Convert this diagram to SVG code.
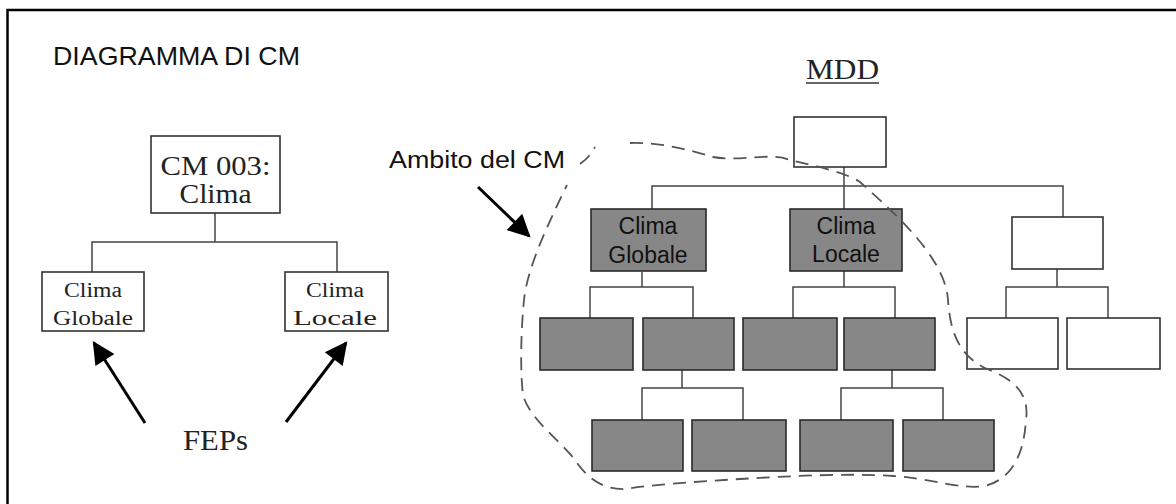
<svg xmlns="http://www.w3.org/2000/svg" width="1176" height="504" viewBox="0 0 1176 504">
<defs>
<style>
.sans{font-family:"Liberation Sans",Arial,sans-serif;fill:#111}
.serif{font-family:"Liberation Serif","Times New Roman",serif;fill:#222}
.wbox{fill:#fff;stroke:#333;stroke-width:1.6}
.gbox{fill:#878787;stroke:#2a2a2a;stroke-width:1.6}
.conn{fill:none;stroke:#444;stroke-width:1.5}
.arrow{fill:none;stroke:#000;stroke-width:3}
.dash{fill:none;stroke:#555;stroke-width:1.8;stroke-dasharray:13 8}
</style>
<marker id="ah" viewBox="0 0 10 10" refX="9" refY="5" markerWidth="9" markerHeight="7.5" orient="auto" markerUnits="strokeWidth">
<path d="M0,0 L10,5 L0,10 z" fill="#000"/>
</marker>
</defs>
<rect width="1176" height="504" fill="#fff"/>
<g id="frame" fill="none" stroke="#000" stroke-width="2.5">
<path d="M7.5,504 L7.5,10 L1176,10"/>
</g>
<text class="sans" x="53" y="65" font-size="25" textLength="247" lengthAdjust="spacingAndGlyphs">DIAGRAMMA DI CM</text>
<g id="connectors">
<path class="conn" d="M215,213 V242 M92,272 V242 H337 V272"/>
<path class="conn" d="M844,167 V209 M652,209 V186 H1063 V217"/>
<path class="conn" d="M642,272 V287 M590,318 V287 H693 V318"/>
<path class="conn" d="M844,271 V287 M793,318 V287 H895 V318"/>
<path class="conn" d="M1057,269 V287 M1006,318 V287 H1108 V318"/>
<path class="conn" d="M682,370 V388 M642,420 V388 H743 V420"/>
<path class="conn" d="M892,370 V388 M841,420 V388 H943 V420"/>
<line class="arrow" x1="145" y1="423" x2="94" y2="343" marker-end="url(#ah)"/>
<line class="arrow" x1="286" y1="422" x2="346" y2="343" marker-end="url(#ah)"/>
<line class="arrow" x1="478" y1="187" x2="529" y2="236" stroke-width="2.6" marker-end="url(#ah)"/>
</g>
<g id="cm003">
<rect class="wbox" x="151" y="136" width="129" height="77"/>
<text class="serif" x="215.5" y="175" font-size="27" text-anchor="middle" textLength="110" lengthAdjust="spacingAndGlyphs">CM 003:</text>
<text class="serif" x="215.5" y="203" font-size="27" text-anchor="middle" textLength="72" lengthAdjust="spacingAndGlyphs">Clima</text>
</g>
<g id="fep-globale">
<rect class="wbox" x="42" y="272" width="102" height="59"/>
<text class="serif" x="93" y="297" font-size="20" text-anchor="middle" textLength="58" lengthAdjust="spacingAndGlyphs">Clima</text>
<text class="serif" x="93" y="325" font-size="20" text-anchor="middle" textLength="80" lengthAdjust="spacingAndGlyphs">Globale</text>
</g>
<g id="fep-locale">
<rect class="wbox" x="285" y="272" width="103" height="59"/>
<text class="serif" x="335" y="297" font-size="20" text-anchor="middle" textLength="58" lengthAdjust="spacingAndGlyphs">Clima</text>
<text class="serif" x="335" y="325" font-size="20" text-anchor="middle" textLength="84" lengthAdjust="spacingAndGlyphs">Locale</text>
</g>
<text class="serif" x="183" y="450" font-size="30" textLength="65" lengthAdjust="spacingAndGlyphs">FEPs</text>
<text class="sans" x="389" y="168" font-size="23" textLength="176" lengthAdjust="spacingAndGlyphs">Ambito del CM</text>
<g id="mdd-title">
<text class="serif" x="806" y="79" font-size="29" textLength="73" lengthAdjust="spacingAndGlyphs">MDD</text>
<line x1="806" y1="83" x2="879" y2="83" stroke="#333" stroke-width="1.3"/>
</g>
<g id="mdd-root"><rect class="wbox" x="794" y="117" width="92" height="50"/></g>
<g id="mdd-globale">
<rect class="gbox" x="591" y="209" width="115" height="62"/>
<text class="sans" x="648" y="234" font-size="23" text-anchor="middle">Clima</text>
<text class="sans" x="648" y="263" font-size="23" text-anchor="middle">Globale</text>
</g>
<g id="mdd-locale">
<rect class="gbox" x="790" y="209" width="112" height="62"/>
<text class="sans" x="846" y="234" font-size="23" text-anchor="middle">Clima</text>
<text class="sans" x="846" y="262" font-size="23" text-anchor="middle">Locale</text>
</g>
<g id="mdd-right"><rect class="wbox" x="1012" y="217" width="91" height="52"/></g>
<g id="g2a"><rect class="gbox" x="540" y="318" width="93" height="52"/></g>
<g id="g2b"><rect class="gbox" x="643" y="318" width="91" height="52"/></g>
<g id="g2c"><rect class="gbox" x="743" y="318" width="94" height="52"/></g>
<g id="g2d"><rect class="gbox" x="844" y="318" width="91" height="52"/></g>
<g id="w2a"><rect class="wbox" x="967" y="318" width="91" height="51"/></g>
<g id="w2b"><rect class="wbox" x="1067" y="318" width="93" height="51"/></g>
<g id="g3a"><rect class="gbox" x="592" y="420" width="91" height="51"/></g>
<g id="g3b"><rect class="gbox" x="692" y="420" width="94" height="51"/></g>
<g id="g3c"><rect class="gbox" x="800" y="420" width="93" height="51"/></g>
<g id="g3d"><rect class="gbox" x="903" y="420" width="91" height="51"/></g>
<g id="scope">
<path class="dash" d="M630,143 C660,142 690,150 713,157 C740,162 770,152 790,160 C815,166 845,172 860,182 C880,200 905,222 925,248 C940,268 947,285 948,300 C950,330 958,355 985,368 C1010,378 1030,390 1026,420 C1024,450 1015,478 985,486 C960,490 930,478 893,476 C850,473 790,476 740,479 C690,482 650,485 625,489 C600,490 585,475 575,460 C560,440 530,420 523,395 C520,370 521,330 524,300 C527,270 545,230 567,185"/>
<path class="dash" d="M580,164 Q590,157 595,147" stroke-dasharray="2 5 10 4"/>
</g>
</svg>
